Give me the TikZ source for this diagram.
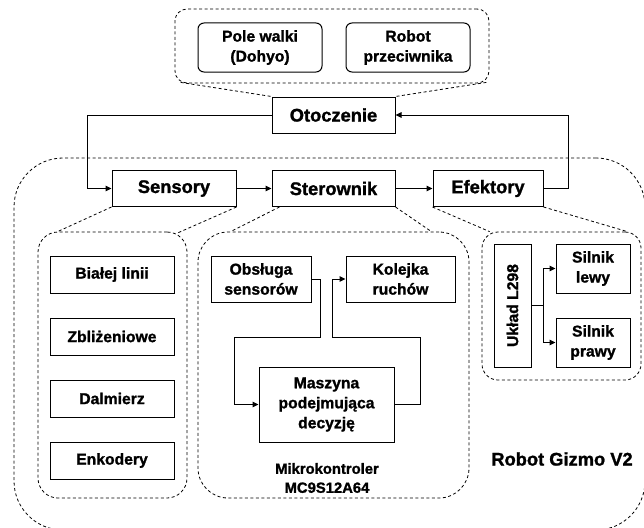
\documentclass[tikz,border=0pt]{standalone}
\usepackage{fontspec}
\setmainfont{Liberation Sans}[BoldFeatures={FakeBold=1.3}]
\usepackage{tikz}
\usetikzlibrary{calc}
\usetikzlibrary{arrows.meta,positioning}
\newcommand{\boxfont}{\fontsize{15.7}{20}\selectfont\bfseries}
\newcommand{\headfont}{\fontsize{18.3}{22}\selectfont\bfseries}
\newcommand{\labfont}{\fontsize{14.8}{19}\selectfont\bfseries}
\tikzset{
    blockbox/.style={
        draw,
        line width=1pt,
        inner sep=0pt,
        align=center,
        font=\boxfont
    },
    softbox/.style={
        blockbox,
        rounded corners=6pt,
        minimum width=124,
        minimum height=49
    },
    headbox/.style={
        blockbox,
        minimum height=36,
        font=\headfont
    },
    % obrys grupy, linia kreskowana
    cloudbox/.style={
        draw,
        line width=0.8pt,
        dash pattern=on 3pt off 2.5pt,
        inner sep=0pt
    },
    dashlink/.style={
        line width=0.8pt,
        dash pattern=on 3pt off 2.5pt
    },
    flowarrow/.style={
        line width=1pt,
        black,
        ->,
        >={Triangle[length=6pt, width=5.5pt]}
    }
}

\begin{document}
\begin{tikzpicture}[x=1pt, y=-1pt]
	\useasboundingbox (0,0) rectangle (644,527);

	\node[cloudbox, rounded corners=49pt, minimum width=631, minimum height=372] (robot) at (329.5,344) {};
	\node[cloudbox, rounded corners=12pt, minimum width=314, minimum height=74] (env) at (332,46) {};
	\node[cloudbox, rounded corners=20pt, minimum width=149, minimum height=266] (sensgroup) at (112.5,365) {};
	\node[cloudbox, rounded corners=30pt, minimum width=271, minimum height=266] (mcu) at (333.5,365) {};
	\node[cloudbox, rounded corners=16pt, minimum width=159, minimum height=148] (drive) at (561.5,306) {};

	\node[softbox] (pole) at (260,47.5) {Pole walki\\(Dohyo)};
	\node[softbox] (rival) at (408,47.5) {Robot\\przeciwnika};

	\node[headbox, minimum width=123] (otoczenie) at (333.5,115) {Otoczenie};
	\node[headbox, minimum width=124] (sensory) at (174,188.5) {Sensory};
	\node[headbox, minimum width=123] (sterownik) at (333.5,188.5) {Sterownik};
	\node[headbox, minimum width=110] (efektory) at (488,188.5) {Efektory};

	\node[blockbox, minimum width=124, minimum height=37] (biala) at (112,274.5) {Białej linii};
	\node[blockbox, minimum width=124, minimum height=37] (zblizeniowe) at (112,336.5) {Zbliżeniowe};
	\node[blockbox, minimum width=124, minimum height=37] (dalmierz) at (112,398.5) {Dalmierz};
	\node[blockbox, minimum width=124, minimum height=37] (enkodery) at (112,460.5) {Enkodery};

	\node[blockbox, minimum width=100, minimum height=46] (obsluga) at (261,279) {Obsługa\\sensorów};
	\node[blockbox, minimum width=109, minimum height=46] (kolejka) at (400.5,279) {Kolejka\\ruchów};
	\node[blockbox, minimum width=135, minimum height=75] (maszyna) at (326.5,404.5) {Maszyna\\podejmująca\\decyzję};
	\node[font=\labfont, align=center] (mcutext) at (327,478) {Mikrokontroler\\MC9S12A64};

	\node[blockbox, minimum width=37, minimum height=123] (uklad) at (512.5,305.5) {\rotatebox{90}{Układ L298}};
	\node[blockbox, minimum width=74, minimum height=49] (lewy) at (593,268.5) {Silnik\\lewy};
	\node[blockbox, minimum width=74, minimum height=49] (prawy) at (593,342.5) {Silnik\\prawy};
	\node[font=\headfont] (gizmo) at (562,459) {Robot Gizmo V2};

	\draw[flowarrow] (otoczenie.west) -- ++(-184,0) |- (sensory.west);
	\draw[flowarrow] (sensory) -- (sterownik);
	\draw[flowarrow] (sterownik) -- (efektory);
	\draw[flowarrow] (efektory.east) -- ++(25,0) |- (otoczenie.east);

	\coordinate (sensbend) at (320,337);
	\coordinate (decbend) at (420,337);
	\draw[flowarrow] (obsluga.east) -| (sensbend) -| ($(maszyna.west)+(-24,0)$) -- (maszyna.west);
	\draw[flowarrow] (maszyna.east) -| (decbend) -| ($(kolejka.west)+(-13,0)$) -- (kolejka.west);

	\draw[flowarrow] (uklad.east) -- ++(12,0) |- (lewy.west);
	\draw[flowarrow] (uklad.east) -- ++(12,0) |- (prawy.west);

	\draw[dashlink] ($(env.south west)+(6,-1)$) -- (otoczenie.north west);
	\draw[dashlink] ($(env.south east)+(-3,-1)$) -- (otoczenie.north east);
	\draw[dashlink] (sensory.south west) -- ($(sensgroup.north west)+(20,0)$);
	\draw[dashlink] (sensory.south east) -- ($(sensgroup.north east)+(-9,1)$);
	\draw[dashlink] ($(sterownik.south west)+(8,0)$) -- ($(mcu.north west)+(33,0)$);
	\draw[dashlink] (sterownik.south east) -- ($(mcu.north east)+(-38,0)$);
	\draw[dashlink] (efektory.south west) -- ($(drive.north west)+(8,0)$);
	\draw[dashlink] (efektory.south east) -- ($(drive.north east)+(-14,0)$);
\end{tikzpicture}
\end{document}
